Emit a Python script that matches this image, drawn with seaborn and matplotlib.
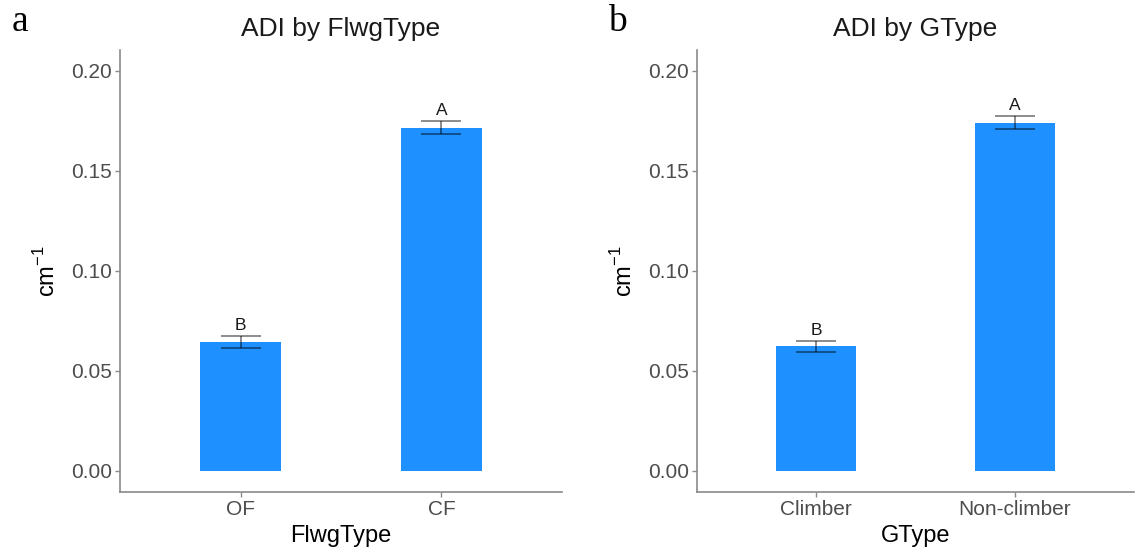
import matplotlib
matplotlib.use("Agg")
import matplotlib.pyplot as plt
import seaborn as sns
import pandas as pd

# Mean ADI (cm^-1) with standard errors and significance letters
flwg_types = ["OF", "CF"]
flwg_means = [0.0645, 0.1717]
flwg_se = [0.0031, 0.0031]
flwg_letters = ["B", "A"]

gtypes = ["Climber", "Non-climber"]
gtype_means = [0.0624, 0.1742]
gtype_se = [0.0027, 0.0031]
gtype_letters = ["B", "A"]

sns.set_theme(style="white")
plt.rcParams["font.family"] = ["Liberation Sans", "DejaVu Sans"]
plt.rcParams["mathtext.fontset"] = "custom"
plt.rcParams["mathtext.rm"] = "Liberation Sans"

BAR = "#1E90FF"
TICK_COL = "#4D4D4D"
AXIS_COL = "#8A8A8A"

fig = plt.figure(figsize=(11.35, 5.52), dpi=100)
ax_a = fig.add_axes([120 / 1135, 1 - 492 / 552, (562 - 120) / 1135, (492 - 50) / 552])
ax_b = fig.add_axes([697 / 1135, 1 - 492 / 552, (1134 - 697) / 1135, (492 - 50) / 552])


def panel(ax, cats, means, se, letters, xname, title):
    df = pd.DataFrame({xname: cats, "ADI": means})
    sns.barplot(data=df, x=xname, y="ADI", color=BAR, width=0.4,
                errorbar=None, saturation=1, ax=ax, linewidth=0)
    ax.errorbar(range(len(cats)), means, yerr=se, fmt="none", ecolor="black",
                alpha=0.45, elinewidth=1.4, capsize=14.5, capthick=1.4, zorder=5)
    for i, (m, s, lab) in enumerate(zip(means, se, letters)):
        ax.text(i, m + s + 0.0015, lab, ha="center", va="bottom",
                fontsize=12.5, color="#1A1A1A")
    ax.set_xlim(-0.6, len(cats) - 0.4)
    ax.set_ylim(-0.0105, 0.2105)
    ax.set_yticks([0.0, 0.05, 0.10, 0.15, 0.20])
    ax.set_yticklabels(["0.00", "0.05", "0.10", "0.15", "0.20"])
    ax.set_title(title, fontsize=19, color="#1A1A1A", pad=10)
    ax.set_xlabel(xname, fontsize=17, color="black", labelpad=4)
    ax.set_ylabel(r"cm$^{-1}$", fontsize=17, color="black", labelpad=8)
    for side in ["top", "right"]:
        ax.spines[side].set_visible(False)
    for side in ["left", "bottom"]:
        ax.spines[side].set_color(AXIS_COL)
        ax.spines[side].set_linewidth(1.2)
    ax.tick_params(axis="both", colors=AXIS_COL, length=3.5, width=1.0,
                   labelsize=15, labelcolor=TICK_COL, pad=2.5, left=True, bottom=True)
    ax.grid(False)


panel(ax_a, flwg_types, flwg_means, flwg_se, flwg_letters, "FlwgType", "ADI by FlwgType")
panel(ax_b, gtypes, gtype_means, gtype_se, gtype_letters, "GType", "ADI by GType")

fig.text(12 / 1135, 1 - 22 / 552, "a", fontsize=27, family="Liberation Serif",
         va="center", ha="left", color="black")
fig.text(608 / 1135, 1 - 22 / 552, "b", fontsize=27, family="Liberation Serif",
         va="center", ha="left", color="black")

fig.savefig("out.png", dpi=100)
